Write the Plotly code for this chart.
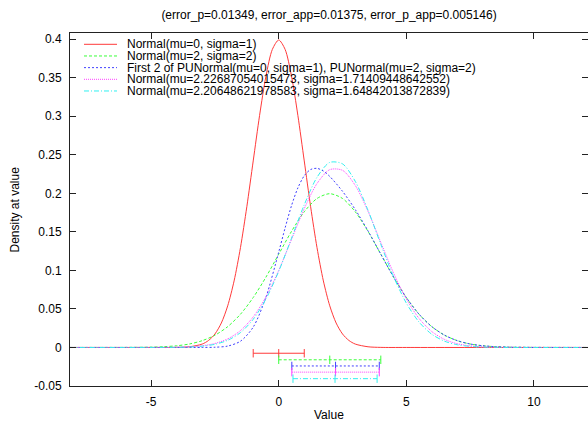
import plotly.graph_objects as go

# ---------------- data ----------------
names = [
    "Normal(mu=0, sigma=1)",
    "Normal(mu=2, sigma=2)",
    "First 2 of PUNormal(mu=0, sigma=1), PUNormal(mu=2, sigma=2)",
    "Normal(mu=2.22687054015473, sigma=1.71409448642552)",
    "Normal(mu=2.20648621978583, sigma=1.64842013872839)",
]
title_text = "(error_p=0.01349, error_app=0.01375, error_p_app=0.005146)"

red_x = [-8.2, -5, -4, -3.5, -3, -2.75, -2.5, -2.25, -2, -1.75, -1.5, -1.25, -1, -0.75, -0.5, -0.25,
         0, 0.25, 0.5, 0.75, 1, 1.25, 1.5, 1.75, 2, 2.25, 2.5, 2.75, 3, 3.5, 4, 5, 12.1]
red_y = [0, 0, 0.0001, 0.0009, 0.0044, 0.0091, 0.0175, 0.0317, 0.0540, 0.0863, 0.1295, 0.1826, 0.2420,
         0.3011, 0.3521, 0.3867, 0.3989, 0.3867, 0.3521, 0.3011, 0.2420, 0.1826, 0.1295, 0.0863,
         0.0540, 0.0317, 0.0175, 0.0091, 0.0044, 0.0009, 0.0001, 0, 0]

green_x = [-8.2, -6, -5, -4.5, -4, -3.5, -3, -2.5, -2, -1.5, -1, -0.5, 0, 0.5, 1, 1.5, 2, 2.5, 3, 3.5,
           4, 4.5, 5, 5.5, 6, 6.5, 7, 7.5, 8, 8.5, 9, 10, 12.1]
green_y = [0, 0.0001, 0.0004, 0.0010, 0.0022, 0.0045, 0.0088, 0.0159, 0.0270, 0.0431, 0.0648, 0.0913,
           0.1210, 0.1506, 0.1760, 0.1933, 0.1995, 0.1933, 0.1760, 0.1506, 0.1210, 0.0913, 0.0648,
           0.0431, 0.0270, 0.0159, 0.0088, 0.0045, 0.0022, 0.0010, 0.0004, 0.0001, 0]

blue_x = [-8.2, -4, -3, -2.5, -2, -1.5, -1, -0.5, 0, 0.25, 0.5, 0.75, 1, 1.25, 1.5, 1.75, 2, 2.5, 3,
          3.5, 4, 4.5, 5, 5.5, 6, 6.5, 7, 7.5, 8, 8.5, 9, 10, 12.1]
blue_y = [0, 0, 0.00004, 0.0003, 0.0018, 0.0081, 0.0264, 0.0654, 0.1238, 0.1551, 0.1839, 0.2070,
          0.2228, 0.2309, 0.2324, 0.2289, 0.2219, 0.2026, 0.1789, 0.1512, 0.1211, 0.0913, 0.0648,
          0.0431, 0.0270, 0.0159, 0.0088, 0.0045, 0.0022, 0.0010, 0.0004, 0.0001, 0]

magenta_x = [-8.2, -4.5, -4, -3.5, -3, -2.5, -2, -1.5, -1, -0.5, 0, 0.5, 1, 1.5, 2, 2.5, 3, 3.5, 4,
             4.5, 5, 5.5, 6, 6.5, 7, 7.5, 8, 8.5, 9, 12.1]
magenta_y = [0, 0.0001, 0.0003, 0.0009, 0.0022, 0.0052, 0.0111, 0.0219, 0.0396, 0.0657, 0.1001,
             0.1401, 0.1801, 0.2127, 0.2307, 0.2298, 0.2102, 0.1766, 0.1363, 0.0966, 0.0629, 0.0376,
             0.0206, 0.0104, 0.0048, 0.0021, 0.0008, 0.0003, 0.0001, 0]

cyan_x = [-8.2, -4, -3.5, -3, -2.5, -2, -1.5, -1, -0.5, 0, 0.5, 1, 1.5, 2, 2.5, 3, 3.5, 4, 4.5, 5,
          5.5, 6, 6.5, 7, 7.5, 8, 8.5, 9, 12.1]
cyan_y = [0, 0.0002, 0.0006, 0.0017, 0.0041, 0.0093, 0.0193, 0.0365, 0.0629, 0.0988, 0.1416, 0.1851,
          0.2208, 0.2401, 0.2382, 0.2155, 0.1779, 0.1339, 0.0919, 0.0576, 0.0329, 0.0171, 0.0081,
          0.0035, 0.0014, 0.0005, 0.0002, 0, 0]

curve_xs = [red_x, green_x, blue_x, magenta_x, cyan_x]
curve_ys = [red_y, green_y, blue_y, magenta_y, cyan_y]

# mean +/- sigma bars drawn below zero
bar_means = [0, 2, 2.22687054015473, 2.22687054015473, 2.20648621978583]
bar_sigmas = [1, 2, 1.71409448642552, 1.71409448642552, 1.64842013872839]
bar_levels = [-0.0075, -0.016, -0.024, -0.032, -0.0405]

x_tickvals = [-5, 0, 5, 10]
x_ticktext = ["-5", "0", "5", "10"]
y_tickvals = [-0.05, 0, 0.05, 0.1, 0.15, 0.2, 0.25, 0.3, 0.35, 0.4]
y_ticktext = ["-0.05", "0", "0.05", "0.1", "0.15", "0.2", "0.25", "0.3", "0.35", "0.4"]

# ---------------- styling ----------------
colors = ["#ff3a3a", "#3aff3a", "#4040ff", "#ff40ff", "#30f0f0"]
dashes = ["solid", "3px,2px", "2px,2px", "1px,1px", "5px,2px,1px,2px"]
FONT = "Liberation Sans, Arial, sans-serif"
AXC = "#222222"

W, H = 588, 421
L, R, T, B = 70, 0, 33, 35
pw, ph = W - L - R, H - T - B

fig = go.Figure()

for xs, ys, c, d, n in zip(curve_xs, curve_ys, colors, dashes, names):
    fig.add_trace(go.Scatter(x=xs, y=ys, mode="lines", name=n, showlegend=False,
                             line=dict(color=c, width=1, dash=d, shape="spline", smoothing=0.8)))

for m, s, lvl, c, d in zip(bar_means, bar_sigmas, bar_levels, colors, dashes):
    fig.add_trace(go.Scatter(
        x=[m - s, m, m + s], y=[lvl, lvl, lvl], mode="lines+markers", showlegend=False,
        line=dict(color=c, width=1, dash=d),
        marker=dict(symbol="line-ns", size=6, color=c, line=dict(color=c, width=1))))

# manual compact legend (top-left, gnuplot style)
annotations = []
shapes = []
for i, (n, c, d) in enumerate(zip(names, colors, dashes)):
    ypx = 44.3 + 11.67 * i
    yp = (H - B - ypx) / ph
    shapes.append(dict(type="line", xref="paper", yref="paper",
                       x0=(84 - L) / pw, x1=(117 - L) / pw, y0=yp, y1=yp,
                       line=dict(color=c, width=1, dash=d)))
    annotations.append(dict(text=n, xref="paper", yref="paper", x=(125 - L) / pw, y=yp,
                            xanchor="left", yanchor="middle", showarrow=False,
                            font=dict(family=FONT, size=12, color="black")))

# axis titles
annotations.append(dict(text="Value", xref="paper", yref="paper", x=0.5,
                        y=(H - B - 415) / ph, xanchor="center", yanchor="middle",
                        showarrow=False, font=dict(family=FONT, size=12, color="black")))
annotations.append(dict(text="Density at value", xref="paper", yref="paper",
                        x=(14 - L) / pw, y=0.5, textangle=-90, xanchor="center",
                        yanchor="middle", showarrow=False,
                        font=dict(family=FONT, size=12, color="black")))

axis_common = dict(showgrid=False, zeroline=False, showline=True, linecolor=AXC,
                   linewidth=1, mirror="allticks", ticks="inside", ticklen=6,
                   tickcolor=AXC, tickwidth=1,
                   tickfont=dict(family=FONT, size=12, color="black"))

fig.update_layout(
    width=W, height=H,
    margin=dict(l=L, r=R, t=T, b=B),
    paper_bgcolor="white", plot_bgcolor="white",
    font=dict(family=FONT, size=12, color="black"),
    title=dict(text=title_text, x=0.5, xref="paper", xanchor="center",
               y=1 - 15 / H, yref="container", yanchor="middle",
               font=dict(family=FONT, size=12, color="black")),
    xaxis=dict(range=[-8.18, 12.12], tickmode="array", tickvals=x_tickvals,
               ticktext=x_ticktext, ticklabelstandoff=5, **axis_common),
    yaxis=dict(range=[-0.05, 0.408], tickmode="array", tickvals=y_tickvals,
               ticktext=y_ticktext, ticklabelstandoff=5, **axis_common),
    annotations=annotations,
    shapes=shapes,
    showlegend=False,
)

fig.write_html("out.html",
               config={"displayModeBar": False},
               post_script="document.body.style.margin='0';"
                           "document.body.style.overflow='hidden';")
